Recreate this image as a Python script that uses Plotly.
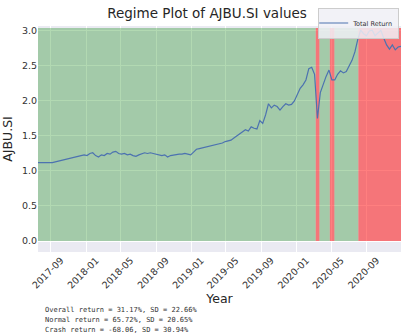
import pandas as pd
import plotly.graph_objects as go

# ---------------- data ----------------
dates = pd.date_range("2017-07-18", "2020-12-31", freq="10D")
total_return = [
    1.12, 1.12, 1.11, 1.12, 1.11, 1.12, 1.13, 1.14, 1.15, 1.16,
    1.17, 1.18, 1.19, 1.20, 1.21, 1.21, 1.23, 1.22, 1.25, 1.26,
    1.22, 1.20, 1.23, 1.22, 1.25, 1.24, 1.27, 1.28, 1.25, 1.24,
    1.25, 1.23, 1.24, 1.22, 1.21, 1.23, 1.24, 1.26, 1.25, 1.26,
    1.25, 1.24, 1.23, 1.22, 1.23, 1.20, 1.22, 1.23, 1.23, 1.24,
    1.24, 1.25, 1.24, 1.23, 1.27, 1.31, 1.32, 1.33, 1.34, 1.35,
    1.35, 1.36, 1.37, 1.39, 1.40, 1.42, 1.43, 1.44, 1.47, 1.50,
    1.53, 1.55, 1.59, 1.57, 1.63, 1.61, 1.60, 1.72, 1.68, 1.80,
    1.96, 1.90, 1.94, 1.92, 1.87, 1.92, 1.96, 1.94, 1.95, 2.00,
    2.10, 2.18, 2.23, 2.30, 2.46, 2.48, 2.38, 1.75, 2.12, 2.25,
    2.35, 2.44, 2.30, 2.30, 2.38, 2.43, 2.40, 2.42, 2.50, 2.58,
    2.70, 2.88, 3.01, 2.96, 2.93, 3.00, 3.01, 2.93, 2.97, 3.01,
    2.90, 2.80, 2.74, 2.80, 2.73, 2.77, 2.78,
]
x_dates = list(dates[: len(total_return)])

regime_starts = ["2017-07-18", "2020-03-08", "2020-03-21", "2020-04-26", "2020-05-12", "2020-08-03"]
regime_ends = ["2020-03-08", "2020-03-21", "2020-04-26", "2020-05-12", "2020-08-03", str(x_dates[-1].date())]
regime_kind = ["normal", "crash", "normal", "crash", "normal", "crash"]
regime_top = 3.04

tick_dates = ["2017-09-01", "2018-01-01", "2018-05-01", "2018-09-01", "2019-01-01",
              "2019-05-01", "2019-09-01", "2020-01-01", "2020-05-01", "2020-09-01"]
tick_text = ["2017-09", "2018-01", "2018-05", "2018-09", "2019-01",
             "2019-05", "2019-09", "2020-01", "2020-05", "2020-09"]
y_ticks = [0.0, 0.5, 1.0, 1.5, 2.0, 2.5, 3.0]

stats_lines = [
    "Overall return = 31.17%, SD = 22.66%",
    "Normal return = 65.72%, SD = 20.65%",
    "Crash return = -68.06, SD = 30.94%",
]

# ---------------- figure ----------------
colors = {"normal": "rgba(0,128,0,0.3)", "crash": "rgba(255,0,0,0.5)"}
fig = go.Figure()
for s, e, k in zip(regime_starts, regime_ends, regime_kind):
    fig.add_trace(go.Scatter(
        x=[s, e, e, s, s], y=[0, 0, regime_top, regime_top, 0],
        mode="lines", fill="toself", fillcolor=colors[k],
        line=dict(width=0), showlegend=False, hoverinfo="skip"))

fig.add_trace(go.Scatter(
    x=x_dates, y=total_return, mode="lines", name="Total Return",
    line=dict(color="#4C72B0", width=1.2)))

font_fam = "DejaVu Sans"
fig.update_layout(
    width=414, height=336,
    margin=dict(l=38, r=13, t=26, b=84, autoexpand=False),
    paper_bgcolor="white", plot_bgcolor="#EAEAF2",
    title=dict(text="Regime Plot of AJBU.SI values", x=0.5, xanchor="center",
               y=1 - 13 / 336, yanchor="middle",
               font=dict(family=font_fam, size=13.5, color="#262626")),
    font=dict(family=font_fam, color="#333333"),
    legend=dict(x=0.995, y=1 + 3 / 226, xanchor="right", yanchor="middle",
                bgcolor="rgba(240,240,246,0.85)", bordercolor="#CCCCCC", borderwidth=1,
                font=dict(size=6.5, color="#333333"), tracegroupgap=0,
                itemwidth=30, indentation=-6),
    showlegend=True,
)
fig.update_xaxes(
    range=[x_dates[0], x_dates[-1]],
    tickvals=tick_dates, ticktext=tick_text, tickangle=-45,
    tickfont=dict(size=9.5, color="#333333"), ticklabelshift=10,
    showgrid=True, gridcolor="white", gridwidth=1, zeroline=False,
    title=dict(text="Year", font=dict(size=12.5, color="#262626"), standoff=4),
    showline=False, ticks="", automargin=False,
)
fig.update_yaxes(
    range=[-0.157, 3.07], tickvals=y_ticks, ticktext=[f"{v:.1f}" for v in y_ticks],
    tickfont=dict(size=9.5, color="#333333"),
    showgrid=True, gridcolor="white", gridwidth=1, zeroline=False,
    title=dict(text="AJBU.SI", font=dict(size=12.5, color="#262626"), standoff=6),
    showline=False, ticks="", automargin=False,
)
for i, line in enumerate(stats_lines):
    fig.add_annotation(
        text=line, xref="paper", yref="paper", x=(43 - 38) / 363, xanchor="left",
        y=-(310 + i * 9.8 - 252) / 226, yanchor="middle", showarrow=False,
        font=dict(family="DejaVu Sans Mono", size=7, color="#333333"))

fig.write_html("out.html")
